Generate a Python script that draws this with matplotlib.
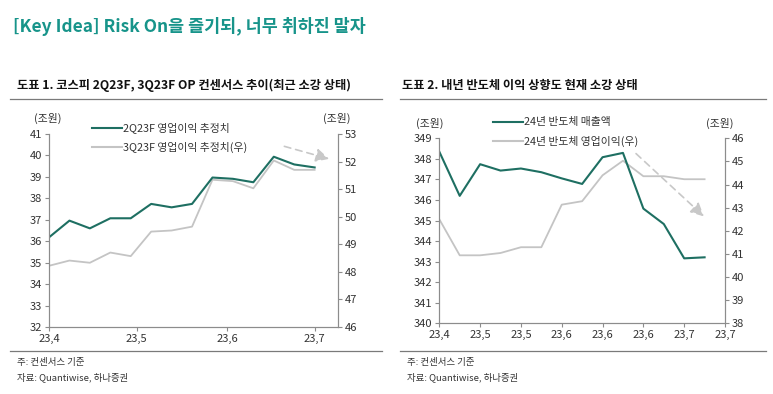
import numpy as np
import matplotlib.pyplot as plt

plt.rcParams['font.family'] = ['Noto Sans CJK KR', 'DejaVu Sans']
plt.rcParams['axes.unicode_minus'] = False

# ---- 도표 1 data (weekly, day offset from 23.4 start) ----
left_days = [0, 7, 14, 21, 28, 35, 42, 49, 56, 63, 70, 77, 84, 91]
op_2q = [36.18, 36.96, 36.60, 37.07, 37.07, 37.74, 37.58, 37.74,
         38.97, 38.91, 38.75, 39.94, 39.58, 39.44]
op_3q = [48.22, 48.41, 48.33, 48.70, 48.57, 49.46, 49.50, 49.64,
         51.34, 51.29, 51.03, 52.04, 51.70, 51.70]
left_tick_days = [0, 30, 61, 91]
left_tick_labels = ['23,4', '23,5', '23,6', '23,7']

# ---- 도표 2 data (weekly index) ----
semi_week = list(range(14))
semi_sales = [348.35, 346.20, 347.74, 347.43, 347.53, 347.35, 347.05, 346.78,
              348.08, 348.29, 345.58, 344.83, 343.16, 343.21]
semi_op = [42.50, 40.94, 40.94, 41.04, 41.29, 41.29, 43.13, 43.28,
           44.40, 45.03, 44.36, 44.36, 44.23, 44.23]
right_ticks = [0, 2, 4, 6, 8, 10, 12, 14]
right_tick_labels = ['23,4', '23,5', '23,5', '23,6', '23,6', '23,6', '23,7', '23,7']

GREEN = '#1e6f62'
GRAY = '#c4c4c4'
SPINE = '#8c8c8c'
TXT = '#333333'

fig = plt.figure(figsize=(7.73, 3.94), dpi=100)


def style_axes(ax, ax2):
    for a in (ax, ax2):
        a.spines['top'].set_visible(False)
        for s in ('left', 'right', 'bottom'):
            a.spines[s].set_color(SPINE)
            a.spines[s].set_linewidth(0.8)
        a.tick_params(colors=SPINE, labelcolor=TXT, labelsize=8,
                      length=3, width=0.8, direction='out', pad=2)


def hline(y, x0, x1):
    fig.add_artist(plt.Line2D([x0 / 773, x1 / 773], [1 - y / 394, 1 - y / 394],
                              color='#7a7a7a', lw=0.9))


# ---------- chart 1 ----------
ax1 = fig.add_axes([49 / 773, 1 - 327 / 394, 289 / 773, 193 / 394])
ax1b = ax1.twinx()
style_axes(ax1, ax1b)
ax1b.plot(left_days, op_3q, color=GRAY, lw=1.3, label='3Q23F 영업이익 추정치(우)')
ax1.plot(left_days, op_2q, color=GREEN, lw=1.5, label='2Q23F 영업이익 추정치')
ax1.set_zorder(ax1b.get_zorder() + 1)
ax1.patch.set_visible(False)
ax1.set_xlim(0, 99)
ax1.set_ylim(32, 41)
ax1.set_yticks(range(32, 42))
ax1b.set_ylim(46, 53)
ax1b.set_yticks(range(46, 54))
ax1.set_xticks(left_tick_days)
ax1.set_xticklabels(left_tick_labels)
ax1b.annotate('', xy=(96.9, 52.07), xytext=(79.7, 52.58),
              arrowprops=dict(arrowstyle='-|>,head_length=0.8,head_width=0.4',
                              color='#c8c8c8', lw=1.2, ls=(0, (4, 3))))

# ---------- chart 2 ----------
ax2 = fig.add_axes([439.3 / 773, 1 - 323.3 / 394, 285.7 / 773, 185 / 394])
ax2b = ax2.twinx()
style_axes(ax2, ax2b)
ax2b.plot(semi_week, semi_op, color=GRAY, lw=1.3, label='24년 반도체 영업이익(우)')
ax2.plot(semi_week, semi_sales, color=GREEN, lw=1.5, label='24년 반도체 매출액')
ax2.set_zorder(ax2b.get_zorder() + 1)
ax2.patch.set_visible(False)
ax2.set_xlim(0, 14)
ax2.set_ylim(340, 349)
ax2.set_yticks(range(340, 350))
ax2b.set_ylim(38, 46)
ax2b.set_yticks(range(38, 47))
ax2.set_xticks(right_ticks)
ax2.set_xticklabels(right_tick_labels)
ax2b.annotate('', xy=(13.07, 42.54), xytext=(9.54, 45.42),
              arrowprops=dict(arrowstyle='-|>,head_length=0.8,head_width=0.4',
                              color='#c8c8c8', lw=1.2, ls=(0, (4, 3))))

# legends drawn by hand as line + text, like the report
def legend_item(x, y, color, text):
    fig.add_artist(plt.Line2D([x / 773, (x + 30) / 773], [1 - y / 394] * 2,
                              color=color, lw=1.5))
    fig.text((x + 31) / 773, 1 - y / 394, text, fontsize=7.8, color=TXT,
             va='center', ha='left')

legend_item(92, 128, GREEN, '2Q23F 영업이익 추정치')
legend_item(92, 147, GRAY, '3Q23F 영업이익 추정치(우)')
legend_item(493, 122, GREEN, '24년 반도체 매출액')
legend_item(493, 141, GRAY, '24년 반도체 영업이익(우)')

# units
for x, y in [(48, 118), (337, 118), (430, 123), (720, 123)]:
    fig.text(x / 773, 1 - y / 394, '(조원)', fontsize=7.8, color=TXT,
             ha='center', va='center')

# titles
fig.text(13 / 773, 1 - 27 / 394, '[Key Idea] Risk On을 즐기되, 너무 취하진 말자',
         fontsize=12.5, fontweight='bold', color='#17948a', va='center')
fig.text(17 / 773, 1 - 85 / 394, '도표 1. 코스피 2Q23F, 3Q23F OP 컨센서스 추이(최근 소강 상태)',
         fontsize=8.8, fontweight='bold', color='#111111', va='center')
fig.text(402 / 773, 1 - 85 / 394, '도표 2. 내년 반도체 이익 상향도 현재 소강 상태',
         fontsize=8.8, fontweight='bold', color='#111111', va='center')

hline(99, 10, 382)
hline(99, 400, 766)
hline(351, 10, 382)
hline(351, 400, 766)

for x in (17, 407):
    fig.text(x / 773, 1 - 362 / 394, '주: 컨센서스 기준', fontsize=6.8, color=TXT, va='center')
    fig.text(x / 773, 1 - 377 / 394, '자료: Quantiwise, 하나증권', fontsize=6.8, color=TXT, va='center')

fig.savefig('out.png', dpi=100)
